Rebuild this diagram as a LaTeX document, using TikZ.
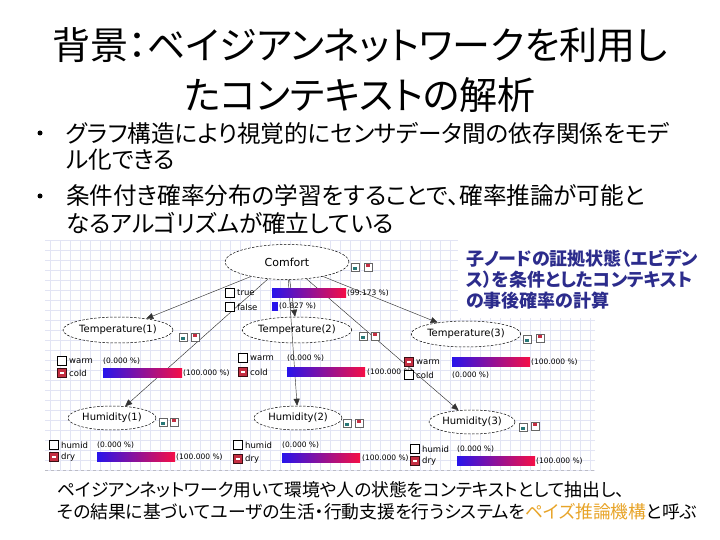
\documentclass[tikz,border=0pt]{standalone}
\usepackage{fontspec}
\setmainfont{Noto Sans CJK JP}[RawFeature={+palt}]
\newfontfamily\uifont{DejaVu Sans}
\usetikzlibrary{arrows.meta,shapes.geometric}

\definecolor{gridc}{RGB}{226,228,244}
\definecolor{notec}{RGB}{44,44,140}
\definecolor{keyc}{RGB}{232,164,40}
\definecolor{barl}{RGB}{40,20,235}
\definecolor{barr}{RGB}{245,15,70}
\definecolor{selc}{RGB}{196,46,66}
\definecolor{tealc}{RGB}{40,120,120}

\tikzset{
  titletext/.style={font=\fontsize{38}{40}\selectfont,inner sep=0pt},
  bullettext/.style={font=\fontsize{23.6}{26}\selectfont,inner sep=0pt,anchor=west},
  bulletdot/.style={circle,fill=black,minimum size=5pt,inner sep=0pt},
  notetext/.style={font=\fontsize{18}{20}\selectfont\bfseries,text=notec,inner sep=0pt,anchor=west},
  bottomtext/.style={font=\fontsize{17.8}{20}\selectfont,inner sep=0pt,anchor=west},
  bnode/.style={ellipse,draw=black,dash pattern=on 2.5pt off 1.5pt,line width=0.5pt,fill=white,inner sep=0pt,font=\uifont\fontsize{10}{11}\selectfont},
  edge/.style={draw=black!80,line width=0.45pt,-{Triangle[length=7pt,width=6pt]}},
  statetext/.style={font=\uifont\fontsize{8.5}{9}\selectfont,inner sep=0pt,anchor=west},
  pcttext/.style={font=\uifont\fontsize{7.5}{9}\selectfont,inner sep=0pt,anchor=west},
  offbox/.style={draw=black,line width=0.9pt,fill=white,minimum size=8.5pt,inner sep=0pt},
  onbox/.style={draw=black!70!selc,line width=0.8pt,fill=selc,minimum size=8.5pt,inner sep=0pt,
    path picture={\fill[white] ([xshift=-2.2pt,yshift=-0.7pt]path picture bounding box.center) rectangle ([xshift=2.2pt,yshift=0.7pt]path picture bounding box.center);}},
  tbtn/.style={draw=black!60,line width=0.5pt,fill=white,minimum size=8pt,inner sep=0pt,
    path picture={\fill[tealc] ([xshift=-1.8pt,yshift=-2.6pt]path picture bounding box.center) rectangle ([xshift=1.8pt,yshift=-0.4pt]path picture bounding box.center);}},
  rbtn/.style={draw=black!60,line width=0.5pt,fill=white,minimum size=8pt,inner sep=0pt,
    path picture={\fill[selc] ([xshift=-1.8pt,yshift=0.4pt]path picture bounding box.center) rectangle ([xshift=1.8pt,yshift=2.6pt]path picture bounding box.center);}},
  bar/.style={left color=barl,right color=barr}
}

\begin{document}
\begin{tikzpicture}[x=1pt,y=-1pt]
\useasboundingbox (0,0) rectangle (720,540);
\fill[white] (0,0) rectangle (720,540);

% Title
\node[titletext] (title1) at (360,45) {背景：ベイジアンネットワークを利用し};
\node[titletext] (title2) at (360,95) {たコンテキストの解析};

% Bullets
\node[bulletdot] (dot1) at (40,133) {};
\node[bullettext] (item1) at (66,133) {グラフ構造により視覚的にセンサデータ間の依存関係をモデ};
\node[bullettext] (item1b) at (66,160) {ル化できる};
\node[bulletdot] (dot2) at (40,196) {};
\node[bullettext] (item2) at (66,196) {条件付き確率分布の学習をすることで、確率推論が可能と};
\node[bullettext] (item2b) at (66,223) {なるアルゴリズムが確立している};

% Network screenshot: grid background
\draw[gridc,step=10pt] (45,240) grid (595,470);
\draw[gridc!60!gray,dashed] (45,470) -- (595,470);

% Network nodes
\node[bnode,minimum width=124,minimum height=35,font=\uifont\fontsize{11}{12}\selectfont] (com) at (287,262) {Comfort};
\node[bnode,minimum width=110,minimum height=26] (t1) at (118,330) {Temperature(1)};
\node[bnode,minimum width=100,minimum height=26] (t2) at (297,330) {Temperature(2)};
\node[bnode,minimum width=106,minimum height=26] (t3) at (466,334) {Temperature(3)};
\node[bnode,minimum width=88,minimum height=24] (h1) at (112,418) {Humidity(1)};
\node[bnode,minimum width=88,minimum height=24] (h2) at (298,418) {Humidity(2)};
\node[bnode,minimum width=86,minimum height=24] (h3) at (472,422) {Humidity(3)};

% Arcs from the parent
\foreach \child in {t1,t2,t3,h1,h2,h3}
  \draw[edge] (com) -- (\child);

% Node buttons
\node[tbtn] (comT) at (355,267) {}; \node[rbtn] (comR) at (368,267) {};
\node[tbtn] (t1T) at (183,337) {};  \node[rbtn] (t1R) at (195,337) {};
\node[tbtn] (t2T) at (363,336) {};  \node[rbtn] (t2R) at (375,336) {};
\node[tbtn] (t3T) at (527,339) {};  \node[rbtn] (t3R) at (540,338) {};
\node[tbtn] (h1T) at (163,422) {};  \node[rbtn] (h1R) at (174,422) {};
\node[tbtn] (h2T) at (347,423) {};  \node[rbtn] (h2R) at (359,423) {};
\node[tbtn] (h3T) at (523,427) {};  \node[rbtn] (h3R) at (535,426) {};

% Comfort states
\node[offbox] (comTrue) at (230,293) {};
\node[statetext] (comTrueL) at (237,293) {true};
\node[offbox] (comFalse) at (230,307) {};
\node[statetext] (comFalseL) at (237,307) {false};
\shade[bar] (272,288.5) rectangle (346,297.5);
\node[pcttext] (comTrueP) at (347,293) {(99.173 \%)};
\fill[barl] (272,302) rectangle (278,311);
\node[pcttext] (comFalseP) at (279,306) {(0.827 \%)};

% Temperature(1) states
\node[offbox] (t1Warm) at (62,361) {};
\node[statetext] (t1WarmL) at (69,361) {warm};
\node[onbox] (t1Cold) at (62,373) {};
\node[statetext] (t1ColdL) at (69,373) {cold};
\node[pcttext] (t1WarmP) at (103,361) {(0.000 \%)};
\shade[bar] (103,368.5) rectangle (182,377.5);
\node[pcttext] (t1ColdP) at (183,373) {(100.000 \%)};

% Temperature(2) states
\node[offbox] (t2Warm) at (243,358) {};
\node[statetext] (t2WarmL) at (250,358) {warm};
\node[onbox] (t2Cold) at (243,372) {};
\node[statetext] (t2ColdL) at (250,372) {cold};
\node[pcttext] (t2WarmP) at (287,358) {(0.000 \%)};
\shade[bar] (287,367.5) rectangle (365,376.5);
\node[pcttext] (t2ColdP) at (367,372) {(100.000 \%)};

% Temperature(3) states
\node[onbox] (t3Warm) at (409,362) {};
\node[statetext] (t3WarmL) at (416,362) {warm};
\node[offbox] (t3Cold) at (409,375) {};
\node[statetext] (t3ColdL) at (416,375) {cold};
\shade[bar] (452,357.5) rectangle (530,366.5);
\node[pcttext] (t3WarmP) at (531,362) {(100.000 \%)};
\node[pcttext] (t3ColdP) at (452,375) {(0.000 \%)};

% Humidity(1) states
\node[offbox] (h1Humid) at (54,445) {};
\node[statetext] (h1HumidL) at (61,445) {humid};
\node[onbox] (h1Dry) at (54,457) {};
\node[statetext] (h1DryL) at (61,457) {dry};
\node[pcttext] (h1HumidP) at (97,445) {(0.000 \%)};
\shade[bar] (97,452.5) rectangle (175,461.5);
\node[pcttext] (h1DryP) at (176,457) {(100.000 \%)};

% Humidity(2) states
\node[offbox] (h2Humid) at (238,445) {};
\node[statetext] (h2HumidL) at (245,445) {humid};
\node[onbox] (h2Dry) at (238,459) {};
\node[statetext] (h2DryL) at (245,459) {dry};
\node[pcttext] (h2HumidP) at (282,445) {(0.000 \%)};
\shade[bar] (282,453.5) rectangle (360,462.5);
\node[pcttext] (h2DryP) at (362,458) {(100.000 \%)};

% Humidity(3) states
\node[offbox] (h3Humid) at (415,449) {};
\node[statetext] (h3HumidL) at (422,449) {humid};
\node[onbox] (h3Dry) at (415,461) {};
\node[statetext] (h3DryL) at (422,461) {dry};
\node[pcttext] (h3HumidP) at (457,449) {(0.000 \%)};
\shade[bar] (457,456.5) rectangle (535,465.5);
\node[pcttext] (h3DryP) at (536,461) {(100.000 \%)};

% Callout over the screenshot
\fill[white] (458,238) rectangle (600,318);
\node[notetext] (note1) at (466,259) {子ノードの証拠状態（エビデン};
\node[notetext] (note2) at (466,280) {ス）を条件としたコンテキスト};
\node[notetext] (note3) at (466,301) {の事後確率の計算};

% Summary
\node[bottomtext] (sum1) at (57,490) {ペイジアンネットワーク用いて環境や人の状態をコンテキストとして抽出し、};
\node[bottomtext] (sum2) at (57,512) {その結果に基づいてユーザの生活・行動支援を行うシステムを\textcolor{keyc}{ペイズ推論機構}と呼ぶ};

\end{tikzpicture}
\end{document}
